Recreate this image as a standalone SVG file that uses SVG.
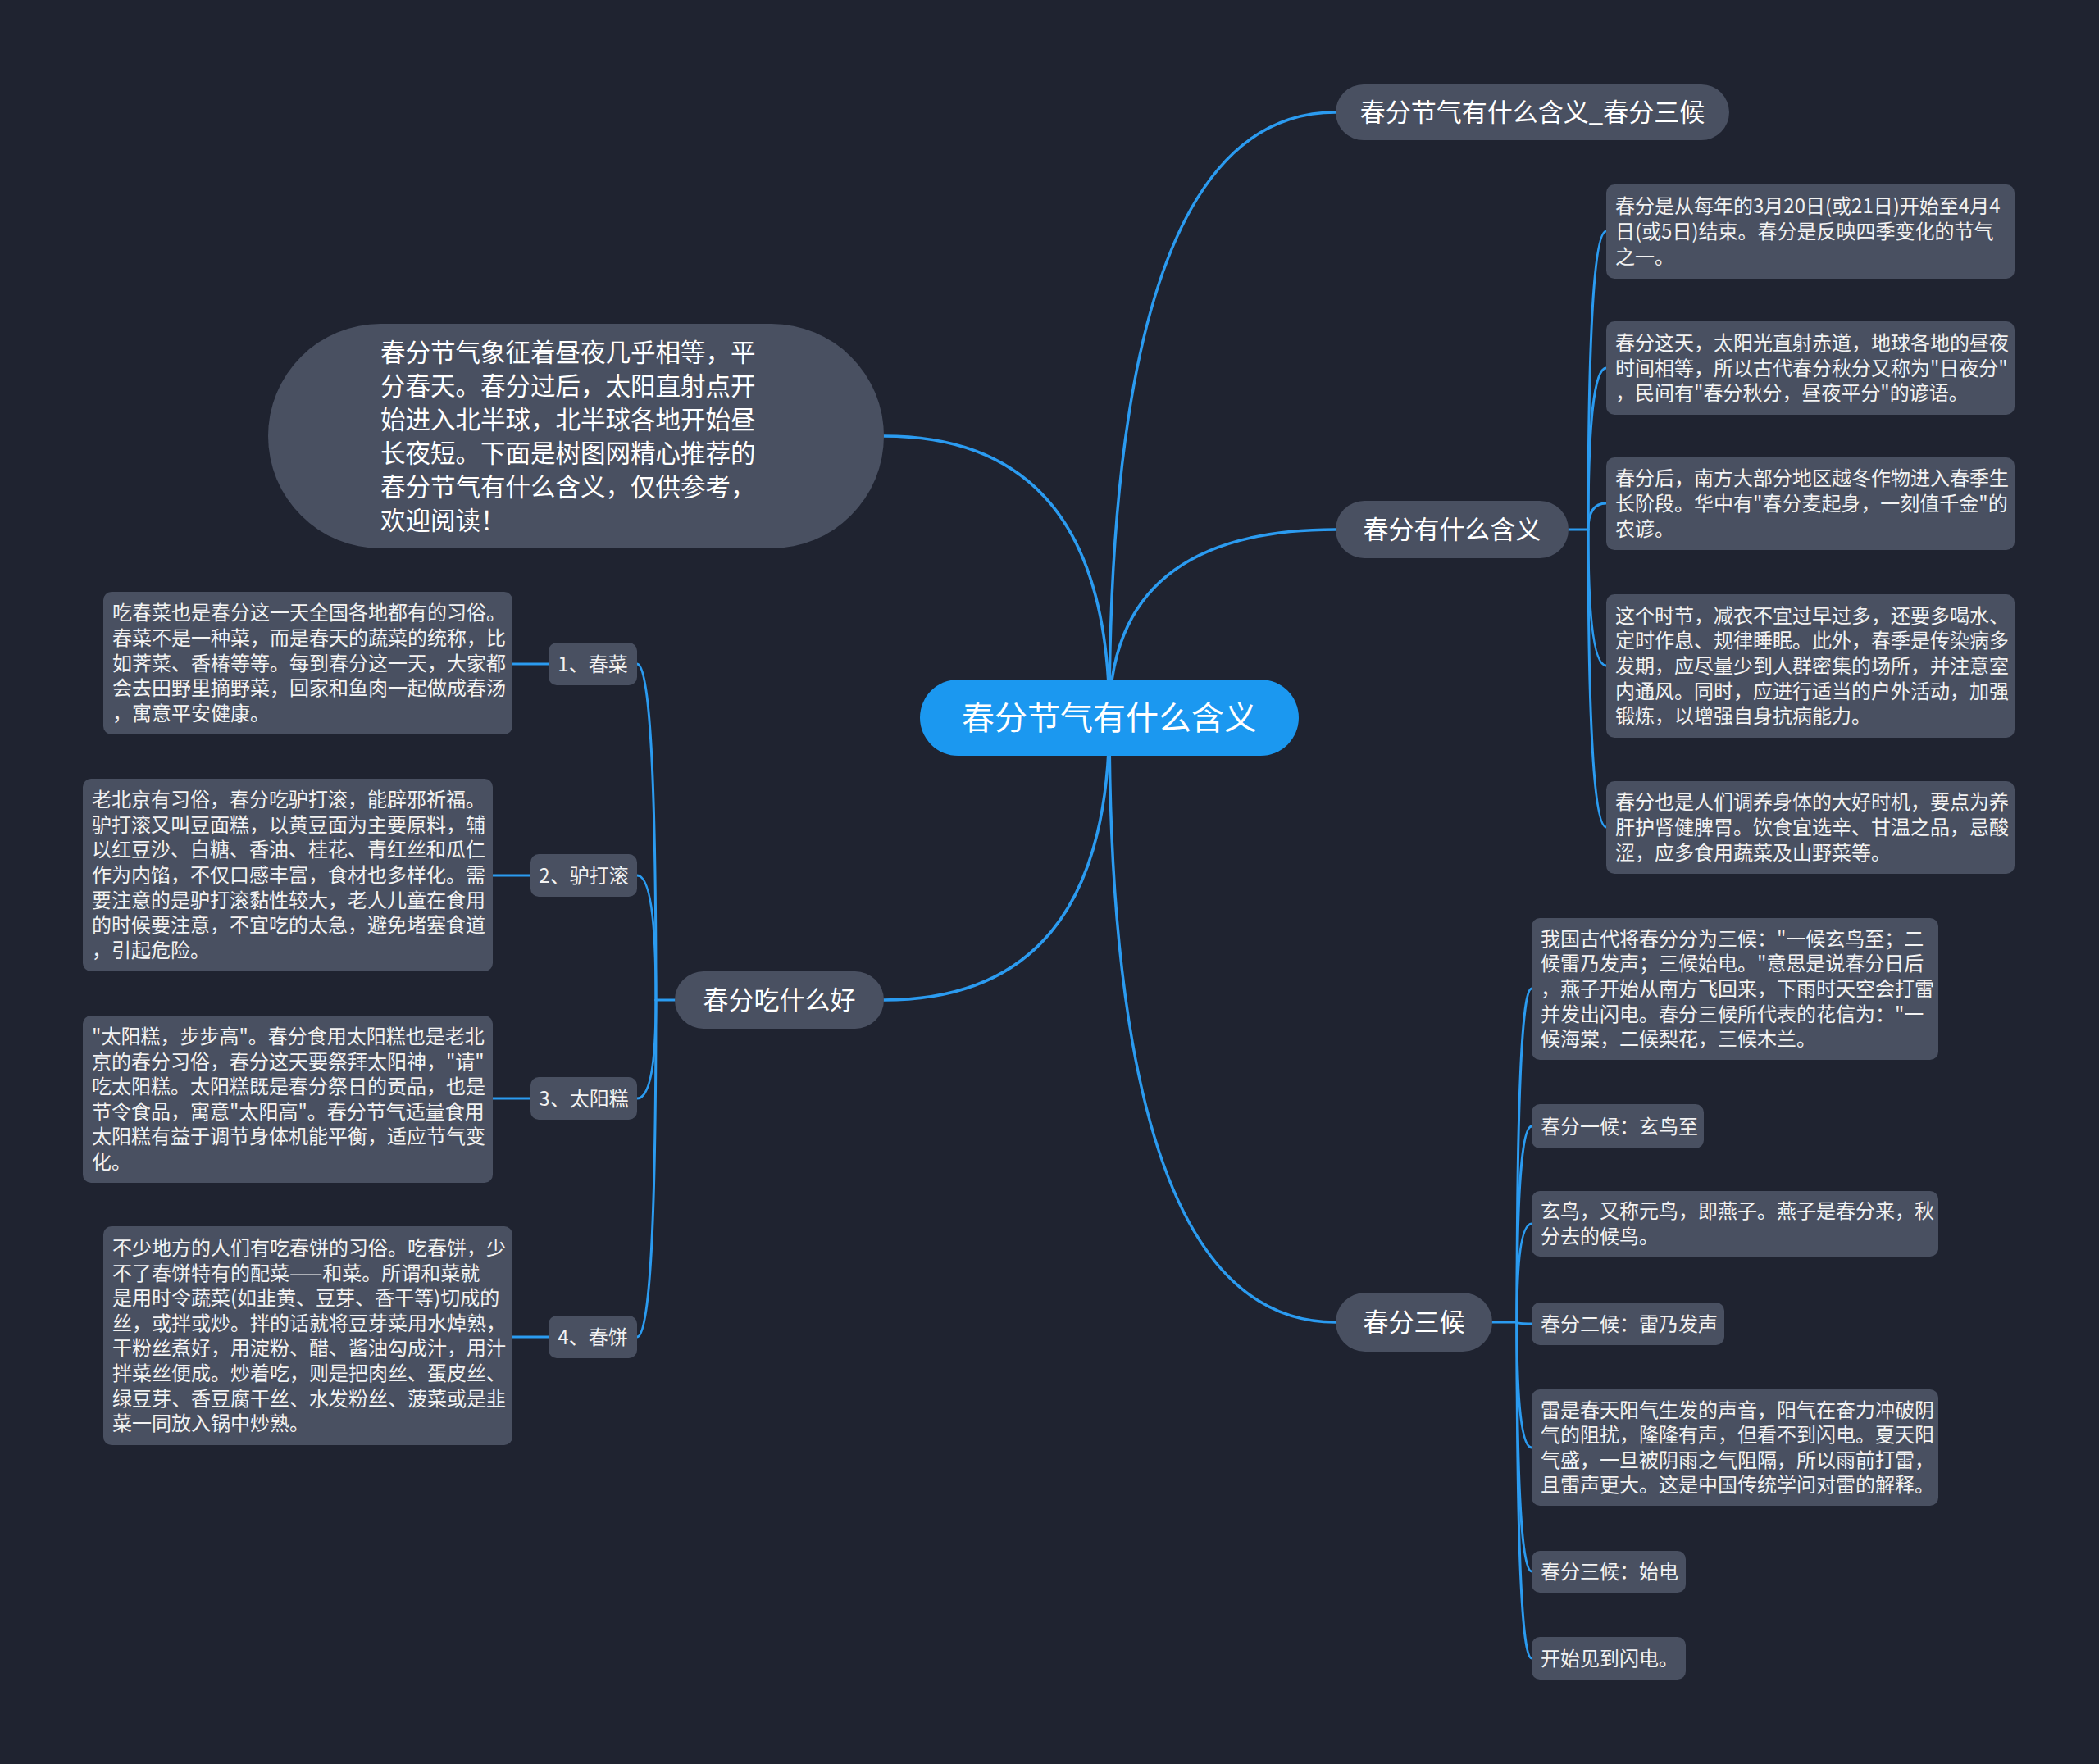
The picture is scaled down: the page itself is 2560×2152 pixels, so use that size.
<svg xmlns="http://www.w3.org/2000/svg" width="2560" height="2152" viewBox="0 0 2560 2152">
<style>
text{font-family:"Noto Sans CJK SC","Noto Sans",sans-serif;fill:#ffffff}
.leaf rect,.sub rect{fill:#495061}
.main rect{fill:#495061}
.lt{font-size:24px;fill:#f2f2f2}
.st{font-size:24px;text-anchor:middle;fill:#f2f2f2}
.mt{font-size:31px;text-anchor:middle}
.ct{font-size:40px;text-anchor:middle}
.it{font-size:30.5px}
.c{fill:none;stroke:#2b9bf0;stroke-width:3.5;stroke-linecap:round}
.c2{fill:none;stroke:#2b9bf0;stroke-width:3;stroke-linecap:round}
</style>
<rect x="0" y="0" width="2560" height="2152" fill="#1f2330"/>
<g id="connectors">
<path class="c" d="M1353 876 Q1353 137 1629 137"/>
<path class="c" d="M1353 876 Q1353 646 1629 646"/>
<path class="c" d="M1353 876 Q1353 532 1078 532"/>
<path class="c" d="M1353 876 Q1353 1220 1078 1220"/>
<path class="c" d="M1353 876 Q1353 1613 1629 1613"/>
<path class="c2" d="M1913 646 L1937 646"/>
<path class="c2" d="M1937 646 Q1937 282 1959 282"/>
<path class="c2" d="M1937 646 Q1937 449 1959 449"/>
<path class="c2" d="M1937 646 Q1937 614 1959 614"/>
<path class="c2" d="M1937 646 Q1937 812 1959 812"/>
<path class="c2" d="M1937 646 Q1937 1009 1959 1009"/>
<path class="c2" d="M823 1220 L800 1220"/>
<path class="c2" d="M800 1220 Q800 810 777 810"/>
<path class="c2" d="M800 1220 Q800 1068 777 1068"/>
<path class="c2" d="M800 1220 Q800 1340 777 1340"/>
<path class="c2" d="M800 1220 Q800 1631 777 1631"/>
<path class="c2" d="M625 810 L669 810"/>
<path class="c2" d="M601 1068 L647 1068"/>
<path class="c2" d="M601 1340 L647 1340"/>
<path class="c2" d="M625 1631 L669 1631"/>
<path class="c2" d="M1820 1613 L1850 1613"/>
<path class="c2" d="M1850 1613 Q1850 1206 1868 1206"/>
<path class="c2" d="M1850 1613 Q1850 1374 1868 1374"/>
<path class="c2" d="M1850 1613 Q1850 1493 1868 1493"/>
<path class="c2" d="M1850 1613 Q1850 1615 1868 1615"/>
<path class="c2" d="M1850 1613 Q1850 1766 1868 1766"/>
<path class="c2" d="M1850 1613 Q1850 1917 1868 1917"/>
<path class="c2" d="M1850 1613 Q1850 2023 1868 2023"/>
</g>
<g id="center">
<rect x="1122" y="829" width="462" height="93" rx="46.5" fill="#1b98f0"/>
<text class="ct" x="1353" y="890">春分节气有什么含义</text>
</g>
<g id="intro" class="main">
<rect x="327" y="395" width="751" height="274" rx="137"/>
<text class="it" x="464" y="440.5">春分节气象征着昼夜几乎相等，平</text>
<text class="it" x="464" y="481.5">分春天。春分过后，太阳直射点开</text>
<text class="it" x="464" y="522.5">始进入北半球，北半球各地开始昼</text>
<text class="it" x="464" y="563.5">长夜短。下面是树图网精心推荐的</text>
<text class="it" x="464" y="604.5">春分节气有什么含义，仅供参考，</text>
<text class="it" x="464" y="645.5">欢迎阅读！</text>
</g>
<g id="n-top" class="main">
<rect x="1629" y="103" width="480" height="68" rx="34"/>
<text class="mt" x="1869" y="148">春分节气有什么含义_春分三候</text>
</g>
<g id="n-meaning" class="main">
<rect x="1629" y="611" width="284" height="70" rx="35"/>
<text class="mt" x="1771" y="657">春分有什么含义</text>
</g>
<g id="n-eat" class="main">
<rect x="823" y="1185" width="255" height="70" rx="35"/>
<text class="mt" x="950.5" y="1231">春分吃什么好</text>
</g>
<g id="n-sanhou" class="main">
<rect x="1629" y="1577" width="191" height="72" rx="36"/>
<text class="mt" x="1724.5" y="1624">春分三候</text>
</g>
<g id="r1" class="leaf">
<rect x="1959" y="225" width="498" height="115" rx="10"/>
<text class="lt" x="1970" y="260.4">春分是从每年的3月20日(或21日)开始至4月4</text>
<text class="lt" x="1970" y="291">日(或5日)结束。春分是反映四季变化的节气</text>
<text class="lt" x="1970" y="321.6">之一。</text>
</g>
<g id="r2" class="leaf">
<rect x="1959" y="392" width="498" height="114" rx="10"/>
<text class="lt" x="1970" y="426.9">春分这天，太阳光直射赤道，地球各地的昼夜</text>
<text class="lt" x="1970" y="457.5">时间相等，所以古代春分秋分又称为"日夜分"</text>
<text class="lt" x="1970" y="488.1">，民间有"春分秋分，昼夜平分"的谚语。</text>
</g>
<g id="r3" class="leaf">
<rect x="1959" y="558" width="498" height="113" rx="10"/>
<text class="lt" x="1970" y="592.4">春分后，南方大部分地区越冬作物进入春季生</text>
<text class="lt" x="1970" y="623">长阶段。华中有"春分麦起身，一刻值千金"的</text>
<text class="lt" x="1970" y="653.6">农谚。</text>
</g>
<g id="r4" class="leaf">
<rect x="1959" y="725" width="498" height="175" rx="10"/>
<text class="lt" x="1970" y="759.8">这个时节，减衣不宜过早过多，还要多喝水、</text>
<text class="lt" x="1970" y="790.4">定时作息、规律睡眠。此外，春季是传染病多</text>
<text class="lt" x="1970" y="821">发期，应尽量少到人群密集的场所，并注意室</text>
<text class="lt" x="1970" y="851.6">内通风。同时，应进行适当的户外活动，加强</text>
<text class="lt" x="1970" y="882.2">锻炼，以增强自身抗病能力。</text>
</g>
<g id="r5" class="leaf">
<rect x="1959" y="953" width="498" height="113" rx="10"/>
<text class="lt" x="1970" y="987.4">春分也是人们调养身体的大好时机，要点为养</text>
<text class="lt" x="1970" y="1018">肝护肾健脾胃。饮食宜选辛、甘温之品，忌酸</text>
<text class="lt" x="1970" y="1048.6">涩，应多食用蔬菜及山野菜等。</text>
</g>
<g id="h1" class="leaf">
<rect x="1868" y="1120" width="496" height="173" rx="10"/>
<text class="lt" x="1879" y="1153.8">我国古代将春分分为三候："一候玄鸟至；二</text>
<text class="lt" x="1879" y="1184.4">候雷乃发声；三候始电。"意思是说春分日后</text>
<text class="lt" x="1879" y="1215">，燕子开始从南方飞回来，下雨时天空会打雷</text>
<text class="lt" x="1879" y="1245.6">并发出闪电。春分三候所代表的花信为："一</text>
<text class="lt" x="1879" y="1276.2">候海棠，二候梨花，三候木兰。</text>
</g>
<g id="h2" class="leaf">
<rect x="1868" y="1347" width="210" height="54" rx="10"/>
<text class="lt" x="1879" y="1382.5">春分一候：玄鸟至</text>
</g>
<g id="h3" class="leaf">
<rect x="1868" y="1453" width="496" height="80" rx="10"/>
<text class="lt" x="1879" y="1486.2">玄鸟，又称元鸟，即燕子。燕子是春分来，秋</text>
<text class="lt" x="1879" y="1516.8">分去的候鸟。</text>
</g>
<g id="h4" class="leaf">
<rect x="1868" y="1589" width="235" height="52" rx="10"/>
<text class="lt" x="1879" y="1623.5">春分二候：雷乃发声</text>
</g>
<g id="h5" class="leaf">
<rect x="1868" y="1695" width="496" height="142" rx="10"/>
<text class="lt" x="1879" y="1728.6">雷是春天阳气生发的声音，阳气在奋力冲破阴</text>
<text class="lt" x="1879" y="1759.2">气的阻扰，隆隆有声，但看不到闪电。夏天阳</text>
<text class="lt" x="1879" y="1789.8">气盛，一旦被阴雨之气阻隔，所以雨前打雷，</text>
<text class="lt" x="1879" y="1820.4">且雷声更大。这是中国传统学问对雷的解释。</text>
</g>
<g id="h6" class="leaf">
<rect x="1868" y="1892" width="188" height="51" rx="10"/>
<text class="lt" x="1879" y="1926">春分三候：始电</text>
</g>
<g id="h7" class="leaf">
<rect x="1868" y="1997" width="188" height="52" rx="10"/>
<text class="lt" x="1879" y="2031.5">开始见到闪电。</text>
</g>
<g id="s1" class="sub">
<rect x="669" y="784" width="108" height="52" rx="10"/>
<text class="st" x="723" y="818.5">1、春菜</text>
</g>
<g id="s2" class="sub">
<rect x="647" y="1042" width="130" height="52" rx="10"/>
<text class="st" x="712" y="1076.5">2、驴打滚</text>
</g>
<g id="s3" class="sub">
<rect x="647" y="1314" width="130" height="52" rx="10"/>
<text class="st" x="712" y="1348.5">3、太阳糕</text>
</g>
<g id="s4" class="sub">
<rect x="669" y="1605" width="108" height="52" rx="10"/>
<text class="st" x="723" y="1639.5">4、春饼</text>
</g>
<g id="l1" class="leaf">
<rect x="126" y="722" width="499" height="174" rx="10"/>
<text class="lt" x="137" y="756.3">吃春菜也是春分这一天全国各地都有的习俗。</text>
<text class="lt" x="137" y="786.9">春菜不是一种菜，而是春天的蔬菜的统称，比</text>
<text class="lt" x="137" y="817.5">如荠菜、香椿等等。每到春分这一天，大家都</text>
<text class="lt" x="137" y="848.1">会去田野里摘野菜，回家和鱼肉一起做成春汤</text>
<text class="lt" x="137" y="878.7">，寓意平安健康。</text>
</g>
<g id="l2" class="leaf">
<rect x="101" y="950" width="500" height="235" rx="10"/>
<text class="lt" x="112" y="984.2">老北京有习俗，春分吃驴打滚，能辟邪祈福。</text>
<text class="lt" x="112" y="1014.8">驴打滚又叫豆面糕，以黄豆面为主要原料，辅</text>
<text class="lt" x="112" y="1045.4">以红豆沙、白糖、香油、桂花、青红丝和瓜仁</text>
<text class="lt" x="112" y="1076">作为内馅，不仅口感丰富，食材也多样化。需</text>
<text class="lt" x="112" y="1106.6">要注意的是驴打滚黏性较大，老人儿童在食用</text>
<text class="lt" x="112" y="1137.2">的时候要注意，不宜吃的太急，避免堵塞食道</text>
<text class="lt" x="112" y="1167.8">，引起危险。</text>
</g>
<g id="l3" class="leaf">
<rect x="101" y="1239" width="500" height="204" rx="10"/>
<text class="lt" x="112" y="1273">"太阳糕，步步高"。春分食用太阳糕也是老北</text>
<text class="lt" x="112" y="1303.6">京的春分习俗，春分这天要祭拜太阳神，"请"</text>
<text class="lt" x="112" y="1334.2">吃太阳糕。太阳糕既是春分祭日的贡品，也是</text>
<text class="lt" x="112" y="1364.8">节令食品，寓意"太阳高"。春分节气适量食用</text>
<text class="lt" x="112" y="1395.4">太阳糕有益于调节身体机能平衡，适应节气变</text>
<text class="lt" x="112" y="1426">化。</text>
</g>
<g id="l4" class="leaf">
<rect x="126" y="1496" width="499" height="267" rx="10"/>
<text class="lt" x="137" y="1530.9">不少地方的人们有吃春饼的习俗。吃春饼，少</text>
<text class="lt" x="137" y="1561.5">不了春饼特有的配菜——和菜。所谓和菜就</text>
<text class="lt" x="137" y="1592.1">是用时令蔬菜(如韭黄、豆芽、香干等)切成的</text>
<text class="lt" x="137" y="1622.7">丝，或拌或炒。拌的话就将豆芽菜用水焯熟，</text>
<text class="lt" x="137" y="1653.3">干粉丝煮好，用淀粉、醋、酱油勾成汁，用汁</text>
<text class="lt" x="137" y="1683.9">拌菜丝便成。炒着吃，则是把肉丝、蛋皮丝、</text>
<text class="lt" x="137" y="1714.5">绿豆芽、香豆腐干丝、水发粉丝、菠菜或是韭</text>
<text class="lt" x="137" y="1745.1">菜一同放入锅中炒熟。</text>
</g>
</svg>
